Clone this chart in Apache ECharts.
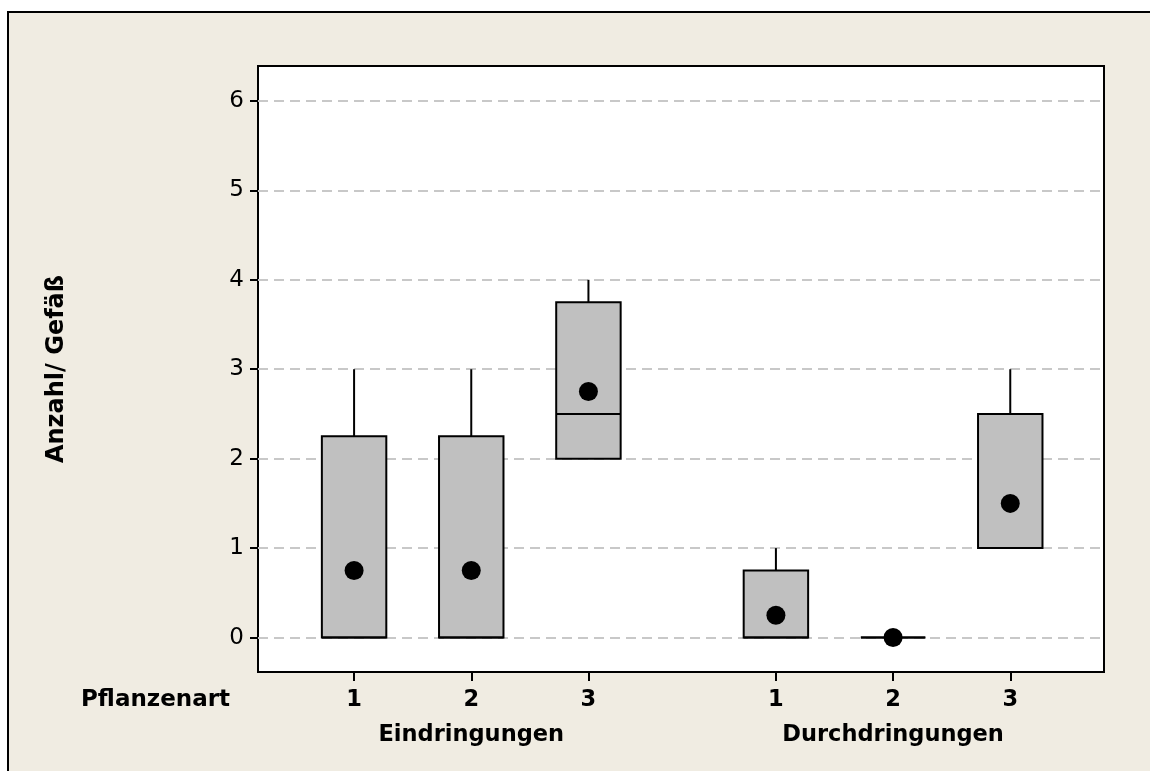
<!DOCTYPE html>
<html>
<head>
<meta charset="utf-8">
<script src="https://cdn.jsdelivr.net/npm/echarts@6.0.0/dist/echarts.min.js"></script>
<style>
  html, body { margin: 0; padding: 0; background: #ffffff; }
  #frame { position: absolute; left: 7px; top: 11px; width: 1160px; height: 780px;
           background: #F0ECE2; border-left: 2px solid #000; border-top: 2px solid #000; }
  #chart { position: absolute; left: 0; top: 0; width: 1150px; height: 771px; }
</style>
</head>
<body>
<div id="frame"></div>
<div id="chart"></div>
<script>
// ---- data ----
const groups = ['Eindringungen', 'Durchdringungen'];
const plants = ['1', '2', '3'];
const rowLabel = 'Pflanzenart';
const yName = 'Anzahl/ Gefäß';
// one entry per box: Eindringungen 1,2,3 then Durchdringungen 1,2,3
const boxMin    = [0, 0, 2,    0,    0, 1];
const boxQ1     = [0, 0, 2,    0,    0, 1];
const boxMedian = [0, 0, 2.5,  0,    0, 1];
const boxQ3     = [2.25, 2.25, 3.75, 0.75, 0, 2.5];
const boxMax    = [3, 3, 4,    1,    0, 3];
const means     = [0.75, 0.75, 2.75, 0.25, 0, 1.5];
const yTicks    = [0, 1, 2, 3, 4, 5, 6];

// ---- layout constants ----
const GROUP_STEP = 3.6;
const X_MIN = 0.18, X_MAX = 7.4;
const Y_MIN = -0.385, Y_MAX = 6.39;
const BOX_W = 0.55;
const FONT = '"DejaVu Sans", Verdana, sans-serif';

const xPos = [];
const xLabelMap = {};
const groupCenters = [];
const groupMap = {};
groups.forEach((g, gi) => {
  plants.forEach((p, pi) => {
    const x = gi * GROUP_STEP + pi + 1;
    xPos.push(x);
    xLabelMap[x.toFixed(2)] = p;
  });
  const c = gi * GROUP_STEP + (plants.length + 1) / 2;
  groupCenters.push(c);
  groupMap[c.toFixed(2)] = g;
});

const boxData = xPos.map((x, i) => [x, boxMin[i], boxQ1[i], boxMedian[i], boxQ3[i], boxMax[i]]);
const meanData = xPos.map((x, i) => [x, means[i]]);

const chart = echarts.init(document.getElementById('chart'), null, { renderer: 'canvas' });

const option = {
  backgroundColor: 'transparent',
  animation: false,
  grid: {
    left: 258, top: 66, width: 846, height: 606,
    show: true, backgroundColor: '#ffffff', borderColor: '#000000', borderWidth: 2,
    containLabel: false, outerBoundsMode: 'none'
  },
  xAxis: [{
    type: 'value', min: X_MIN, max: X_MAX, position: 'bottom',
    axisLine: { show: false, onZero: false },
    axisTick: { show: true, length: 9, customValues: xPos, lineStyle: { color: '#000', width: 2 } },
    axisLabel: {
      customValues: xPos, margin: 17,
      formatter: v => xLabelMap[Number(v).toFixed(2)] || '',
      color: '#000', fontFamily: FONT, fontSize: 22.5, fontWeight: 'bold'
    },
    splitLine: { show: false }
  }, {
    type: 'value', min: X_MIN, max: X_MAX, position: 'bottom',
    axisLine: { show: false, onZero: false },
    axisTick: { show: false },
    axisLabel: {
      customValues: groupCenters, margin: 52,
      formatter: v => groupMap[Number(v).toFixed(2)] || '',
      color: '#000', fontFamily: FONT, fontSize: 22.5, fontWeight: 'bold'
    },
    splitLine: { show: false }
  }],
  yAxis: {
    type: 'value', min: Y_MIN, max: Y_MAX,
    name: yName, nameLocation: 'middle', nameRotate: 90, nameGap: 189,
    nameTextStyle: { color: '#000', fontFamily: FONT, fontSize: 24, fontWeight: 'bold' },
    axisLine: { show: false, onZero: false },
    axisTick: { show: true, length: 8, customValues: yTicks, lineStyle: { color: '#000', width: 2 } },
    axisLabel: { customValues: yTicks, margin: 14, color: '#000', fontFamily: FONT, fontSize: 23 },
    splitLine: { show: true, lineStyle: { color: '#C8C8C8', width: 2, type: [10, 6] } }
  },
  graphic: [{
    type: 'text', left: 81, top: 689,
    style: { text: rowLabel, fill: '#000', font: 'bold 23px ' + FONT }
  }],
  series: [{
    type: 'custom',
    xAxisIndex: 0,
    data: boxData,
    encode: { x: 0, y: [1, 2, 3, 4, 5] },
    z: 3,
    renderItem: function (params, api) {
      const x = api.value(0);
      const lo = api.coord([x, api.value(1)]);
      const q1 = api.coord([x, api.value(2)]);
      const med = api.coord([x, api.value(3)]);
      const q3 = api.coord([x, api.value(4)]);
      const hi = api.coord([x, api.value(5)]);
      const w = api.size([BOX_W, 0])[0];
      const ls = { stroke: '#000', lineWidth: 2 };
      return {
        type: 'group',
        children: [
          { type: 'line', shape: { x1: hi[0], y1: hi[1], x2: q3[0], y2: q3[1] }, style: ls },
          { type: 'line', shape: { x1: lo[0], y1: lo[1], x2: q1[0], y2: q1[1] }, style: ls },
          { type: 'rect', shape: { x: q3[0] - w / 2, y: q3[1], width: w, height: q1[1] - q3[1] },
            style: { fill: '#C0C0C0', stroke: '#000', lineWidth: 2 } },
          { type: 'line', shape: { x1: med[0] - w / 2, y1: med[1], x2: med[0] + w / 2, y2: med[1] }, style: ls }
        ]
      };
    }
  }, {
    type: 'scatter',
    xAxisIndex: 0,
    data: meanData,
    symbol: 'circle',
    symbolSize: 19,
    z: 5,
    itemStyle: { color: '#000', opacity: 1 }
  }]
};
chart.setOption(option);
</script>
</body>
</html>
